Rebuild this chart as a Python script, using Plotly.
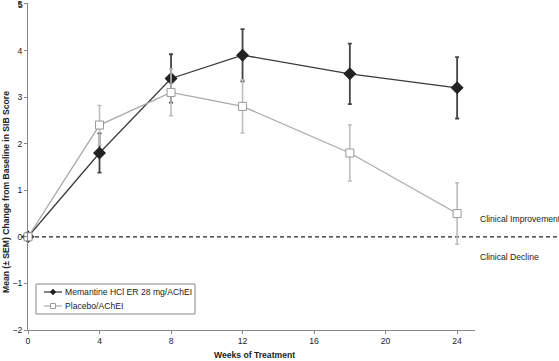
import plotly.graph_objects as go

weeks = [0, 4, 8, 12, 18, 24]
mem_mean = [0, 1.8, 3.4, 3.9, 3.5, 3.2]
mem_sem = [0, 0.42, 0.52, 0.56, 0.65, 0.66]
pla_mean = [0, 2.4, 3.1, 2.8, 1.8, 0.5]
pla_sem = [0, 0.42, 0.5, 0.57, 0.6, 0.66]
x_ticks = [0, 4, 8, 12, 16, 20, 24]
y_ticks = [-2, -1, 0, 1, 2, 3, 4, 5]
series_names = ["Memantine HCl ER 28 mg/AChEI", "Placebo/AChEI"]

FONT = "Liberation Sans, Arial, sans-serif"
FS = 8.6
L, T, PW, PH = 28, 3, 447, 327


def px(x):
    return (x - L) / PW


def py(y):
    return (T + PH - y) / PH


fig = go.Figure()
fig.add_trace(go.Scatter(
    x=weeks, y=mem_mean, mode="lines+markers", name=series_names[0],
    line=dict(color="#3a3a3a", width=1.3),
    marker=dict(symbol="diamond", size=10, color="#222222", line=dict(color="#222222", width=0)),
    error_y=dict(type="data", array=mem_sem, color="#444444", thickness=1.8, width=2),
    cliponaxis=False, showlegend=False,
))
fig.add_trace(go.Scatter(
    x=weeks, y=pla_mean, mode="lines+markers", name=series_names[1],
    line=dict(color="#aaaaaa", width=1.3),
    marker=dict(symbol="square", size=8, color="white", line=dict(color="#999999", width=1)),
    error_y=dict(type="data", array=pla_sem, color="#bdbdbd", thickness=1.6, width=2),
    cliponaxis=False, showlegend=False,
))

# zero reference line extending to the right edge
fig.add_shape(type="line", xref="paper", yref="y", x0=0, x1=px(559), y0=0, y1=0,
              line=dict(color="#222222", width=1.2, dash="4px,3px"), layer="below")

# manual legend
fig.add_shape(type="rect", xref="paper", yref="paper", x0=px(36), x1=px(195), y0=py(314), y1=py(284),
              line=dict(color="#888888", width=1), fillcolor="white", layer="above")
leg_rows = [292, 306]
leg_colors = ["#333333", "#aaaaaa"]
for r, c in zip(leg_rows, leg_colors):
    fig.add_shape(type="line", xref="paper", yref="paper", x0=px(44), x1=px(62), y0=py(r), y1=py(r),
                  line=dict(color=c, width=1.2), layer="above")
cx, cy = 53, leg_rows[0]
fig.add_shape(type="path", xref="paper", yref="paper",
              path=f"M {px(cx-3)} {py(cy)} L {px(cx)} {py(cy-3)} L {px(cx+3)} {py(cy)} L {px(cx)} {py(cy+3)} Z",
              fillcolor="#222222", line=dict(color="#222222", width=0.5), layer="above")
cx, cy = 53, leg_rows[1]
fig.add_shape(type="rect", xref="paper", yref="paper", x0=px(cx-2.5), x1=px(cx+2.5), y0=py(cy+2.5), y1=py(cy-2.5),
              fillcolor="white", line=dict(color="#999999", width=1), layer="above")
for r, name in zip(leg_rows, series_names):
    fig.add_annotation(text=name, xref="paper", yref="paper", x=px(63), y=py(r),
                       xanchor="left", yanchor="middle", showarrow=False,
                       font=dict(size=FS, color="#222222", family=FONT))

# top tick label (plotly hides it when it touches the page edge)
fig.add_annotation(text=str(y_ticks[-1]), xref="paper", yref="paper", x=px(24), y=py(-1),
                   xanchor="right", yanchor="top", showarrow=False, borderpad=0,
                   font=dict(size=FS, color="#222222", family=FONT))

fig.add_annotation(text="Clinical Improvement", xref="paper", yref="paper",
                   x=px(478), y=py(219), xanchor="left", yanchor="middle",
                   showarrow=False, font=dict(size=FS, color="#222222", family=FONT))
fig.add_annotation(text="Clinical Decline", xref="paper", yref="paper",
                   x=px(478), y=py(257), xanchor="left", yanchor="middle",
                   showarrow=False, font=dict(size=FS, color="#222222", family=FONT))
fig.add_annotation(text="<b>Weeks of Treatment</b>", xref="paper", yref="paper",
                   x=px(254), y=py(355), xanchor="center", yanchor="middle",
                   showarrow=False, font=dict(size=FS, color="#222222", family=FONT))
fig.add_annotation(text="<b>Mean (± SEM) Change from Baseline in SIB Score</b>", xref="paper", yref="paper",
                   x=px(6), y=py(192), xanchor="center", yanchor="middle",
                   textangle=-90, showarrow=False, font=dict(size=FS, color="#222222", family=FONT))

axis_common = dict(tickmode="array", showgrid=False, zeroline=False,
                   showline=True, linecolor="#888888", linewidth=1, ticks="outside", ticklen=3,
                   tickcolor="#888888", automargin=False, tickfont=dict(size=FS, color="#222222"),
                   ticklabeloverflow="allow")

fig.update_layout(
    width=559, height=361,
    margin=dict(l=L, r=559 - L - PW, t=T, b=361 - T - PH),
    paper_bgcolor="white", plot_bgcolor="white",
    font=dict(family=FONT, size=FS, color="#222222"),
    showlegend=False,
    xaxis=dict(range=[0, 25], tickvals=x_ticks, **axis_common),
    yaxis=dict(range=[-2, 5.02], tickvals=y_ticks, **axis_common),
)

fig.write_html("out.html", config={"displayModeBar": False},
               post_script="document.body.style.margin='0';")
